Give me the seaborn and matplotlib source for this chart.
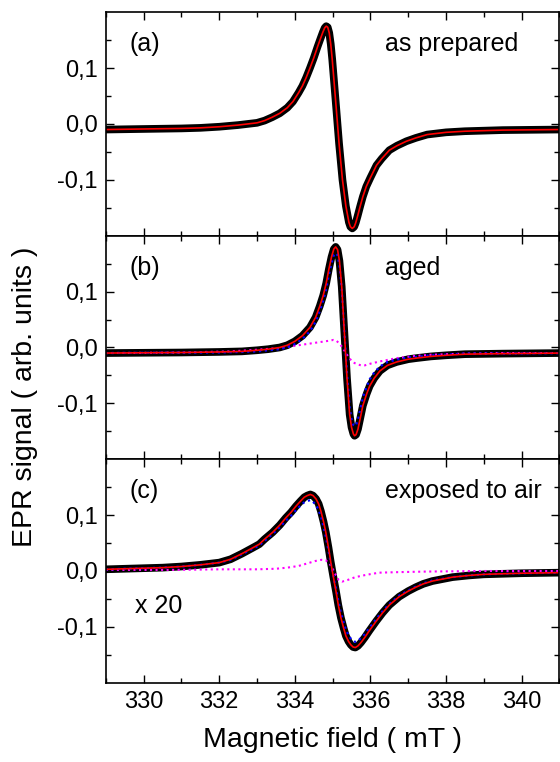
import seaborn as sns
import matplotlib.pyplot as plt
from matplotlib.ticker import MultipleLocator, FixedLocator, FuncFormatter

# (a) as prepared: field (mT) and EPR signal
field_a = [329.0, 330.0, 331.0, 331.5, 332.0, 332.5, 333.0, 333.2, 333.4, 333.6,
           333.8, 333.95, 334.1, 334.2, 334.3, 334.4, 334.5, 334.6, 334.68, 334.74,
           334.79, 334.83, 334.87, 334.91, 334.95, 334.99, 335.03, 335.1, 335.17, 335.26,
           335.35, 335.43, 335.47, 335.52, 335.57, 335.61, 335.66, 335.73, 335.8, 335.89,
           336.0, 336.16, 336.3, 336.5, 336.7, 336.95, 337.2, 337.5, 338.0, 338.5,
           339.5, 341.0]
signal_a = [-0.010, -0.009, -0.008, -0.007, -0.005, -0.002, 0.002, 0.006, 0.012, 0.019,
            0.029, 0.040, 0.056, 0.068, 0.083, 0.100, 0.118, 0.138, 0.153, 0.164,
            0.172, 0.175, 0.173, 0.163, 0.143, 0.115, 0.082, 0.024, -0.035, -0.100,
            -0.147, -0.176, -0.184, -0.187, -0.184, -0.177, -0.165, -0.147, -0.130, -0.112,
            -0.096, -0.074, -0.062, -0.047, -0.039, -0.031, -0.025, -0.019, -0.015, -0.013,
            -0.011, -0.010]

# (b) aged: signal, main component (blue) and second component (magenta)
field_b = [329.0, 331.0, 332.0, 332.6, 333.0, 333.3, 333.6, 333.8, 334.0, 334.2,
           334.4, 334.55, 334.66, 334.75, 334.83, 334.9, 334.97, 335.03, 335.08, 335.13,
           335.18, 335.24, 335.31, 335.38, 335.45, 335.5, 335.55, 335.58, 335.62, 335.67,
           335.72, 335.8, 335.9, 335.98, 336.1, 336.25, 336.45, 336.69, 337.0, 337.22,
           337.6, 338.0, 338.5, 339.5, 341.0]
signal_b = [-0.010, -0.009, -0.008, -0.007, -0.005, -0.003, 0.000, 0.004, 0.011, 0.021,
            0.036, 0.054, 0.074, 0.093, 0.115, 0.140, 0.162, 0.176, 0.180, 0.175,
            0.155, 0.109, 0.027, -0.055, -0.120, -0.143, -0.155, -0.158, -0.156, -0.146,
            -0.130, -0.104, -0.083, -0.069, -0.055, -0.042, -0.032, -0.026, -0.021, -0.019,
            -0.016, -0.014, -0.012, -0.011, -0.010]
comp1_b = [-0.010, -0.009, -0.009, -0.008, -0.007, -0.005, -0.003, 0.000, 0.006, 0.015,
           0.029, 0.046, 0.065, 0.084, 0.105, 0.130, 0.151, 0.165, 0.169, 0.165,
           0.147, 0.105, 0.029, -0.047, -0.107, -0.128, -0.139, -0.141, -0.139, -0.129,
           -0.114, -0.089, -0.070, -0.057, -0.045, -0.034, -0.026, -0.022, -0.018, -0.017,
           -0.014, -0.013, -0.011, -0.011, -0.010]
field_b2 = [329.0, 331.0, 332.3, 333.0, 333.6, 334.0, 334.4, 334.7, 334.9, 335.02,
            335.1, 335.18, 335.26, 335.35, 335.45, 335.55, 335.65, 335.75, 335.85, 336.0,
            336.25, 336.7, 337.2, 337.6, 338.5, 339.5, 341.0]
comp2_b = [-0.010, -0.009, -0.007, -0.004, -0.001, 0.003, 0.007, 0.010, 0.012, 0.0135,
           0.012, 0.007, 0.000, -0.010, -0.020, -0.027, -0.030, -0.032, -0.032, -0.029,
           -0.025, -0.019, -0.015, -0.013, -0.011, -0.010, -0.010]

# (c) exposed to air (x 20)
field_c = [329.0, 329.5, 330.0, 330.5, 331.0, 331.5, 332.0, 332.3, 332.6, 332.9,
           333.06, 333.2, 333.41, 333.6, 333.76, 333.9, 334.03, 334.15, 334.25, 334.33,
           334.41, 334.48, 334.56, 334.63, 334.69, 334.76, 334.82, 334.89, 334.95, 335.02,
           335.09, 335.15, 335.22, 335.29, 335.35, 335.42, 335.48, 335.54, 335.6, 335.67,
           335.75, 335.85, 335.97, 336.15, 336.32, 336.5, 336.76, 337.0, 337.2, 337.4,
           337.64, 338.17, 338.6, 339.0, 340.0, 341.0]
signal_c = [0.003, 0.004, 0.005, 0.006, 0.008, 0.011, 0.015, 0.021, 0.031, 0.042,
            0.048, 0.057, 0.069, 0.082, 0.095, 0.105, 0.116, 0.125, 0.132, 0.135,
            0.137, 0.135, 0.129, 0.120, 0.107, 0.088, 0.069, 0.042, 0.016, -0.011,
            -0.037, -0.061, -0.084, -0.102, -0.116, -0.126, -0.132, -0.136, -0.137, -0.134,
            -0.128, -0.119, -0.107, -0.090, -0.075, -0.061, -0.046, -0.036, -0.029, -0.023,
            -0.018, -0.011, -0.008, -0.006, -0.004, -0.003]
comp1_c = [0.003, 0.004, 0.005, 0.006, 0.008, 0.011, 0.015, 0.020, 0.030, 0.040,
           0.046, 0.054, 0.066, 0.078, 0.090, 0.099, 0.109, 0.117, 0.123, 0.125,
           0.127, 0.124, 0.118, 0.109, 0.097, 0.079, 0.061, 0.037, 0.014, -0.009,
           -0.032, -0.054, -0.075, -0.092, -0.105, -0.115, -0.121, -0.125, -0.127, -0.125,
           -0.120, -0.113, -0.102, -0.086, -0.072, -0.059, -0.044, -0.035, -0.028, -0.022,
           -0.017, -0.011, -0.008, -0.006, -0.004, -0.003]
field_c2 = [329.0, 331.0, 332.0, 333.0, 333.5, 333.8, 334.1, 334.35, 334.55, 334.7,
            334.82, 334.92, 335.0, 335.08, 335.16, 335.25, 335.4, 335.6, 335.88, 336.23,
            336.76, 337.5, 339.0, 341.0]
comp2_c = [0.002, 0.002, 0.003, 0.003, 0.004, 0.006, 0.009, 0.014, 0.018, 0.020,
           0.019, 0.013, 0.004, -0.007, -0.016, -0.019, -0.016, -0.011, -0.007, -0.003,
           -0.002, -0.001, 0.000, 0.000]

labels = ["(a)", "(b)", "(c)"]
titles = ["as prepared", "aged", "exposed to air"]

sns.set_style("ticks")
plt.rcParams['font.family'] = ['Liberation Sans', 'DejaVu Sans']
plt.rcParams.update({'text.color': 'black', 'axes.labelcolor': 'black',
                     'xtick.color': 'black', 'ytick.color': 'black',
                     'axes.edgecolor': 'black'})

fig, axes = plt.subplots(3, 1, figsize=(5.6, 7.62), dpi=100, sharex=True)
fig.subplots_adjust(left=0.189, right=0.999, top=0.984, bottom=0.104, hspace=0)

panels = [
    (field_a, signal_a, None, None, None),
    (field_b, signal_b, comp1_b, field_b2, comp2_b),
    (field_c, signal_c, comp1_c, field_c2, comp2_c),
]

for i, (ax, (fx, sig, c1, fx2, c2)) in enumerate(zip(axes, panels)):
    # experimental points (dense open circles -> thick black band)
    sns.lineplot(x=fx, y=sig, ax=ax, color='black', linewidth=5.5, sort=False, estimator=None)
    if c2 is not None:
        sns.lineplot(x=fx2, y=c2, ax=ax, color='#ff00ff', linewidth=1.5, linestyle=':',
                     sort=False, estimator=None)
        sns.lineplot(x=fx, y=c1, ax=ax, color='blue', linewidth=1.6, linestyle=':',
                     sort=False, estimator=None)
    # fit
    sns.lineplot(x=fx, y=sig, ax=ax, color='red', linewidth=1.2, sort=False, estimator=None)

    ax.set_xlim(329, 341)
    ax.set_ylim(-0.2, 0.2)
    ax.xaxis.set_major_locator(MultipleLocator(2))
    ax.xaxis.set_minor_locator(MultipleLocator(1))
    ax.yaxis.set_major_locator(FixedLocator([-0.1, 0.0, 0.1]))
    ax.yaxis.set_minor_locator(FixedLocator([-0.15, -0.05, 0.05, 0.15]))
    ax.yaxis.set_major_formatter(FuncFormatter(
        lambda v, p: "0,0" if abs(v) < 1e-9 else f"{v:.1f}".replace('.', ',')))
    ax.tick_params(which='both', direction='in', top=True, right=True, width=1.0,
                   labelsize=17, pad=6)
    ax.tick_params(which='major', length=6)
    ax.tick_params(which='minor', length=3.5)
    for sp in ax.spines.values():
        sp.set_linewidth(1.2)
    ax.set_ylabel("")
    ax.set_xlabel("")

    ax.text(0.053, 0.825, labels[i], transform=ax.transAxes, fontsize=18, va='baseline')
    ax.text(0.615, 0.825, titles[i], transform=ax.transAxes, fontsize=18, va='baseline')

axes[2].text(0.065, 0.312, "x 20", transform=axes[2].transAxes, fontsize=18, va='baseline')
axes[2].set_xlabel("Magnetic field ( mT )", fontsize=20.5, labelpad=10)
fig.text(0.045, 0.479, "EPR signal ( arb. units )", rotation=90, fontsize=20.5,
         ha='center', va='center')

fig.savefig("out.png", dpi=100)
